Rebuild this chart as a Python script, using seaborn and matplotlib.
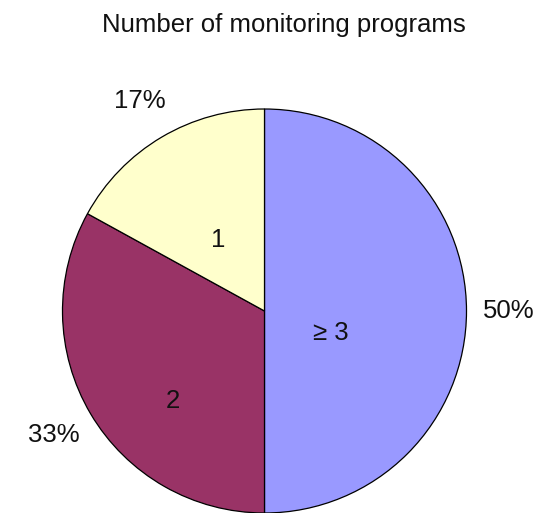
import matplotlib
matplotlib.use("Agg")
import matplotlib.pyplot as plt
import seaborn as sns

# share of respondents by number of monitoring programs
categories = ["\u2265 3", "2", "1"]
shares = [50, 33, 17]
colors = ["#9999FF", "#993366", "#FFFFCC"]

sns.set_style("white")
plt.rcParams["font.family"] = ["Liberation Sans", "DejaVu Sans"]

W, H = 543, 513
fig = plt.figure(figsize=(W / 100, H / 100), dpi=100)
ax = fig.add_axes([0, 0, 1, 1])

cx, cy, r = 264.5, H - 311, 202
wedges, labels, pcts = ax.pie(
    shares, labels=categories, colors=colors, startangle=90, counterclock=False,
    center=(cx, cy), radius=r, autopct="%.0f%%", pctdistance=1.21, labeldistance=0.45,
    wedgeprops=dict(edgecolor="black", linewidth=0.9),
    textprops=dict(fontsize=18.5, color="#111111"),
)

# Excel-style inner label positions (offsets from pie centre, in pixels)
inner = [(66.5, -22), (-91.5, -90), (-46.5, 71)]
for t, (dx, dy) in zip(labels, inner):
    t.set_position((cx + dx, cy + dy))
    t.set_ha("center")
    t.set_va("center")
for t in pcts:
    t.set_ha("center")
    t.set_va("center")

ax.text(284, H - 25, "Number of monitoring programs", ha="center", va="center",
        fontsize=18.5, color="#111111")

ax.set_xlim(0, W)
ax.set_ylim(0, H)
ax.set_aspect("equal")
ax.axis("off")

fig.savefig("out.png", dpi=100)
